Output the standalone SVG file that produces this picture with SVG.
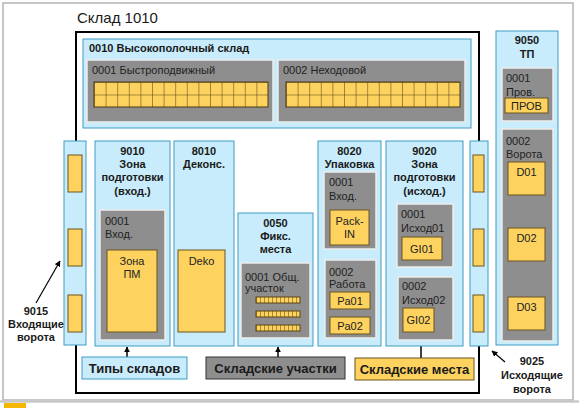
<svg xmlns="http://www.w3.org/2000/svg" width="579" height="408" viewBox="0 0 579 408">
<style>
text{font-family:"Liberation Sans",Arial,sans-serif;fill:#1a1a1a}
.b{font-weight:bold;font-size:11px;text-anchor:middle}
.n{font-size:11px;fill:#222}
.c{text-anchor:middle}
.lg{font-weight:bold;font-size:13px;text-anchor:middle}
.blue{fill:#c8ecfb;stroke:#3f9cc6;stroke-width:1}
.gray{fill:#8e8e8e;stroke:#ececec;stroke-width:1.5}
.yel{fill:#fdd25f;stroke:#6a5420;stroke-width:1}
.conn{fill:none;stroke:#000;stroke-width:2}
.arr{fill:none;stroke:#000;stroke-width:1.5}
</style>
<defs>
<marker id="ah" viewBox="0 0 10 10" refX="9" refY="5" markerWidth="6" markerHeight="6" orient="auto-start-reverse" markerUnits="userSpaceOnUse">
<path d="M0,0 L10,5 L0,10 z" fill="#000"/>
</marker>
<pattern id="gridA" patternUnits="userSpaceOnUse" x="94" y="82" width="11.6" height="12.5">
<rect width="11.6" height="12.5" fill="#fdd25f"/>
<path d="M0,0 H11.6 M0,0 V12.5" stroke="#4a3a10" stroke-width="1"/>
</pattern>
<pattern id="gridB" patternUnits="userSpaceOnUse" x="286" y="82" width="11.6" height="12.5">
<rect width="11.6" height="12.5" fill="#fdd25f"/>
<path d="M0,0 H11.6 M0,0 V12.5" stroke="#4a3a10" stroke-width="1"/>
</pattern>
<pattern id="strip" patternUnits="userSpaceOnUse" x="256" y="0" width="4" height="10">
<rect width="4" height="10" fill="#fdd25f"/>
<path d="M0,0 V10" stroke="#5a4410" stroke-width="1"/>
</pattern>
</defs>
<rect x="0" y="0" width="579" height="408" fill="#fff"/>
<rect x="3" y="3" width="570" height="397" fill="none" stroke="#b4b4b4" stroke-width="1.5"/>
<line x1="0" y1="401.5" x2="579" y2="401.5" stroke="#c8c8c8" stroke-width="2.5"/>
<rect x="4" y="403" width="22" height="5" fill="#f5b800"/>
<text x="77" y="23" style="font-size:15px">Склад 1010</text>

<g id="connectors">
<path class="conn" d="M76,142 V32 H479 V142"/>
<path class="conn" d="M76,345 V393 H479 V345"/>
<line class="arr" x1="127" y1="357" x2="127" y2="347" marker-end="url(#ah)"/>
<line class="arr" x1="278" y1="357" x2="278" y2="347" marker-end="url(#ah)"/>
<line class="arr" x1="421" y1="358" x2="421" y2="332" marker-end="url(#ah)"/>
<line x1="36" y1="303" x2="60" y2="261" stroke="#000" stroke-width="1.2" marker-end="url(#ah)"/>
<line x1="505" y1="362" x2="492" y2="351" stroke="#000" stroke-width="1.2" marker-end="url(#ah)"/>
</g>

<g id="n0010">
<rect class="blue" x="83" y="39" width="388" height="89"/>
<text x="89" y="52" style="font-size:11px;font-weight:bold">0010 Высокополочный склад</text>
<g id="n0010-0001">
<rect class="gray" x="87" y="60" width="186" height="62"/>
<text class="n" x="92" y="74">0001 Быстроподвижный</text>
<rect x="94" y="82" width="174" height="25" fill="url(#gridA)" stroke="#4a3a10" stroke-width="1"/>
</g>
<g id="n0010-0002">
<rect class="gray" x="278" y="60" width="187" height="62"/>
<text class="n" x="283" y="74">0002 Неходовой</text>
<rect x="286" y="82" width="174" height="25" fill="url(#gridB)" stroke="#4a3a10" stroke-width="1"/>
</g>
</g>

<g id="n9050">
<rect class="blue" x="496" y="31" width="62" height="314"/>
<text class="b" x="527" y="44">9050</text>
<text class="b" x="527" y="58">ТП</text>
<rect class="gray" x="502" y="68" width="51" height="53"/>
<text class="n" x="506" y="82">0001</text>
<text class="n" x="506" y="96">Пров.</text>
<rect class="yel" x="505" y="98" width="43" height="15"/>
<text class="n c" x="526.5" y="110">ПРОВ</text>
<rect class="gray" x="502" y="129" width="51" height="212"/>
<text class="n" x="506" y="145">0002</text>
<text class="n" x="506" y="158">Ворота</text>
<rect class="yel" x="508" y="162" width="37" height="33"/>
<text class="n c" x="526.5" y="176">D01</text>
<rect class="yel" x="508" y="228" width="37" height="33"/>
<text class="n c" x="526.5" y="242">D02</text>
<rect class="yel" x="508" y="297" width="37" height="33"/>
<text class="n c" x="526.5" y="311">D03</text>
</g>

<g id="n9015">
<rect class="blue" x="64" y="141" width="22" height="204"/>
<rect class="yel" x="68" y="155" width="14" height="37"/>
<rect class="yel" x="68" y="229" width="14" height="37"/>
<rect class="yel" x="68" y="295" width="14" height="37"/>
<text class="b" x="36" y="315">9015</text>
<text class="b" x="36" y="328">Входящие</text>
<text class="b" x="36" y="341">ворота</text>
</g>

<g id="n9010">
<rect class="blue" x="95" y="141" width="75" height="205"/>
<text class="b" x="132.5" y="155">9010</text>
<text class="b" x="132.5" y="168">Зона</text>
<text class="b" x="132.5" y="181">подготовки</text>
<text class="b" x="132.5" y="195">(вход.)</text>
<rect class="gray" x="100" y="210" width="65" height="130"/>
<text class="n" x="105" y="225">0001</text>
<text class="n" x="105" y="238">Вход.</text>
<rect class="yel" x="107" y="250" width="50" height="82"/>
<text class="n c" x="132" y="265">Зона</text>
<text class="n c" x="132" y="278">ПМ</text>
</g>

<g id="n8010">
<rect class="blue" x="174" y="141" width="60" height="205"/>
<text class="b" x="204" y="155">8010</text>
<text class="b" x="204" y="168">Деконс.</text>
<rect class="yel" x="178" y="250" width="47" height="82"/>
<text class="n c" x="201.5" y="265">Deko</text>
</g>

<g id="n0050">
<rect class="blue" x="238" y="213" width="75" height="133"/>
<text class="b" x="275.5" y="227">0050</text>
<text class="b" x="275.5" y="240">Фикс.</text>
<text class="b" x="275.5" y="253">места</text>
<rect class="gray" x="241" y="263" width="69" height="75"/>
<text class="n" x="245" y="281">0001 Общ.</text>
<text class="n" x="245" y="292">участок</text>
<rect x="256" y="297" width="44" height="6" fill="url(#strip)" stroke="#5a4410" stroke-width="1"/>
<rect x="256" y="311" width="44" height="6" fill="url(#strip)" stroke="#5a4410" stroke-width="1"/>
<rect x="256" y="325" width="44" height="6" fill="url(#strip)" stroke="#5a4410" stroke-width="1"/>
</g>

<g id="n8020">
<rect class="blue" x="318" y="141" width="63" height="205"/>
<text class="b" x="349.5" y="155">8020</text>
<text class="b" x="349.5" y="168">Упаковка</text>
<rect class="gray" x="324" y="172" width="52" height="77"/>
<text class="n" x="329" y="186">0001</text>
<text class="n" x="329" y="200">Вход.</text>
<rect class="yel" x="330" y="210" width="39" height="35"/>
<text class="n c" x="349.5" y="225">Pack-</text>
<text class="n c" x="349.5" y="238">IN</text>
<rect class="gray" x="325" y="260" width="51" height="78"/>
<text class="n" x="329" y="276">0002</text>
<text class="n" x="329" y="288">Работа</text>
<rect class="yel" x="330" y="292" width="40" height="17"/>
<text class="n c" x="350" y="305">Pa01</text>
<rect class="yel" x="330" y="317" width="40" height="17"/>
<text class="n c" x="350" y="330">Pa02</text>
</g>

<g id="n9020">
<rect class="blue" x="386" y="141" width="77" height="205"/>
<text class="b" x="424.5" y="155">9020</text>
<text class="b" x="424.5" y="168">Зона</text>
<text class="b" x="424.5" y="181">подготовки</text>
<text class="b" x="424.5" y="195">(исход.)</text>
<rect class="gray" x="397" y="204" width="56" height="63"/>
<text class="n" x="401" y="218">0001</text>
<text class="n" x="401" y="232">Исход01</text>
<rect class="yel" x="402" y="237" width="40" height="23"/>
<text class="n c" x="422" y="253">GI01</text>
<rect class="gray" x="398" y="277" width="55" height="63"/>
<text class="n" x="402" y="290">0002</text>
<text class="n" x="402" y="304">Исход02</text>
<rect class="yel" x="403" y="308" width="31" height="24"/>
<text class="n c" x="418.5" y="324">GI02</text>
</g>

<g id="n9025">
<rect class="blue" x="470" y="141" width="18" height="205"/>
<rect class="yel" x="473" y="155" width="11" height="37"/>
<rect class="yel" x="473" y="229" width="11" height="37"/>
<rect class="yel" x="473" y="295" width="11" height="37"/>
<text class="b" x="532" y="365">9025</text>
<text class="b" x="532" y="379">Исходящие</text>
<text class="b" x="532" y="393">ворота</text>
</g>

<g id="legend-types">
<rect class="blue" x="82" y="357" width="105" height="22"/>
<text class="lg" x="134.5" y="373">Типы складов</text>
</g>
<g id="legend-areas">
<rect x="206" y="357" width="139" height="22" fill="#8e8e8e" stroke="#333" stroke-width="1"/>
<text class="lg" x="275.5" y="373">Складские участки</text>
</g>
<g id="legend-bins">
<rect class="yel" x="355" y="358" width="119" height="22"/>
<text class="lg" x="414.5" y="374">Складские места</text>
</g>
</svg>
